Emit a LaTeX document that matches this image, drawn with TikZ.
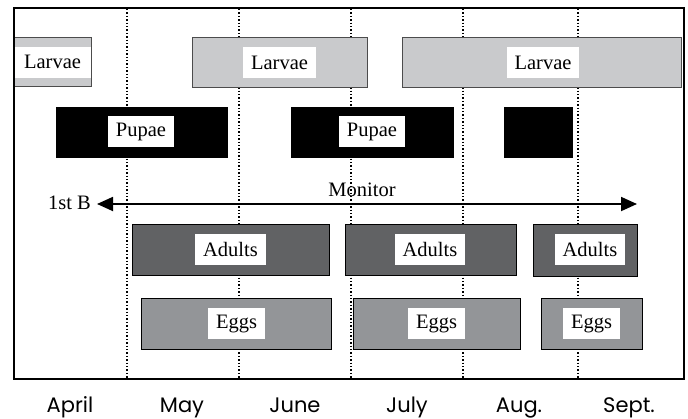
\documentclass[tikz,border=0pt]{standalone}
\usepackage{fontspec}
\setmainfont{Liberation Serif}
\newfontfamily\monthfont{Poppins}
\usetikzlibrary{arrows.meta}
\definecolor{larvafill}{HTML}{C9CACC}
\definecolor{adultfill}{HTML}{616264}
\definecolor{eggfill}{HTML}{939598}
\tikzset{
  larvabar/.style={fill=larvafill, draw=black!70, line width=0.8pt},
  pupabar/.style={fill=black, draw=black, line width=0.5pt},
  adultbar/.style={fill=adultfill, draw=black, line width=0.9pt},
  eggbar/.style={fill=eggfill, draw=black, line width=0.9pt},
  lab/.style={fill=white, inner xsep=8pt, inner ysep=0pt, minimum height=31pt, font=\fontsize{20.5}{21}\selectfont},
  plain/.style={inner sep=0pt, font=\fontsize{20.5}{21}\selectfont},
  month/.style={inner sep=0pt, anchor=base, font=\monthfont\fontsize{21}{23}\selectfont},
  monthline/.style={line width=1.4pt, dash pattern=on 1.4pt off 2pt},
}
\begin{document}
\begin{tikzpicture}[x=1pt, y=-1pt]
\useasboundingbox (0,0) rectangle (688,418);
\fill[white] (0,0) rectangle (688,418);
% dotted month lines
\foreach \xx in {127,239,351,463,578} {
  \draw[monthline] (\xx,9) -- (\xx,378);
}
% larvae
\draw[larvabar] (14,37) rectangle (91,86);
\draw[larvabar] (192,37) rectangle (367,87);
\draw[larvabar] (402,37) rectangle (681,87);
\node[lab, minimum width=77pt, inner xsep=0pt] (l1) at (52.5,62) {Larvae};
\node[lab] (l2) at (279.5,62.5) {Larvae};
\node[lab] (l3) at (543,62.5) {Larvae};
% pupae
\draw[pupabar] (56,107) rectangle (227,157);
\draw[pupabar] (291,107) rectangle (453,157);
\draw[pupabar] (504,107) rectangle (572,157);
\node[lab] (p1) at (141,131.5) {Pupae};
\node[lab] (p2) at (372,131.5) {Pupae};
% monitor arrow
\coordinate (ml) at (97,204);
\coordinate (mr) at (637,204);
\draw[line width=1.8pt, {Triangle[length=16pt,width=14pt]}-{Triangle[length=16pt,width=14pt]}] (ml) -- (mr);
\node[plain, anchor=base east] (fb) at (91,209) {1st B};
\node[plain, anchor=base] (mon) at (362,196) {Monitor};
% adults
\draw[adultbar] (132,224) rectangle (329,275);
\draw[adultbar] (345,224) rectangle (516,275);
\draw[adultbar] (533,224) rectangle (637,276);
\node[lab] (a1) at (230.5,249.5) {Adults};
\node[lab] (a2) at (430,249.5) {Adults};
\node[lab] (a3) at (590,249.5) {Adults};
% eggs
\draw[eggbar] (141,298) rectangle (331,349);
\draw[eggbar] (353,298) rectangle (520,349);
\draw[eggbar] (541,298) rectangle (642,349);
\node[lab] (e1) at (236.5,323.5) {Eggs};
\node[lab] (e2) at (436.5,323.5) {Eggs};
\node[lab] (e3) at (591.5,323.5) {Eggs};
% frame
\draw[line width=2pt] (14,8) rectangle (684,379);
% months
\node[month] (apr) at (70,412) {April};
\node[month] (may) at (182,412) {May};
\node[month] (jun) at (295,412) {June};
\node[month] (jul) at (407,412) {July};
\node[month] (aug) at (519,412) {Aug.};
\node[month] (sep) at (629,412) {Sept.};
\end{tikzpicture}
\end{document}
